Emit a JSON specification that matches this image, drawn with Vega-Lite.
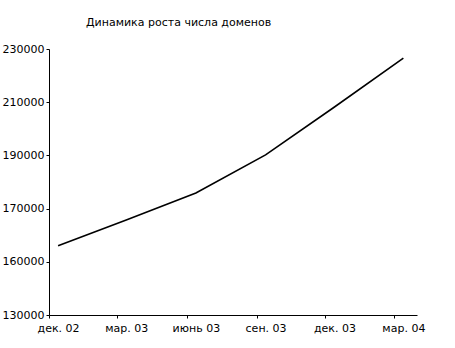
{
  "$schema": "https://vega.github.io/schema/vega-lite/v6.json",
  "autosize": "none",
  "width": 368,
  "height": 266,
  "padding": {"left": 49, "top": 49, "right": 38, "bottom": 33},
  "background": "white",
  "title": {
    "text": "Динамика роста числа доменов",
    "anchor": "start",
    "frame": "group",
    "dx": 37,
    "offset": 15,
    "font": "DejaVu Sans",
    "fontSize": 11,
    "fontWeight": "normal",
    "color": "black"
  },
  "data": {
    "values": [
      {"date": "2002-12-01T00:00:00", "domains": 156000},
      {"date": "2003-03-01T00:00:00", "domains": 165700},
      {"date": "2003-06-01T00:00:00", "domains": 175900},
      {"date": "2003-09-01T00:00:00", "domains": 190200},
      {"date": "2003-12-01T00:00:00", "domains": 208200},
      {"date": "2004-03-01T00:00:00", "domains": 226600}
    ]
  },
  "mark": {"type": "line", "color": "black", "strokeWidth": 1.6},
  "encoding": {
    "x": {
      "field": "date",
      "type": "temporal",
      "scale": {"domain": [{"year": 2002, "month": 11, "date": 19}, {"year": 2004, "month": 3, "date": 19}]},
      "axis": {
        "title": null,
        "values": [
          {"year": 2002, "month": 12, "date": 1},
          {"year": 2003, "month": 3, "date": 1},
          {"year": 2003, "month": 6, "date": 1},
          {"year": 2003, "month": 9, "date": 1},
          {"year": 2003, "month": 12, "date": 1},
          {"year": 2004, "month": 3, "date": 1}
        ],
        "format": "%b %y",
        "grid": false,
        "tickOffset": -9,
        "labelOffset": 9,
        "tickSize": 3,
        "tickColor": "black",
        "domainColor": "black",
        "labelColor": "black",
        "labelFont": "DejaVu Sans",
        "labelFontSize": 11,
        "labelPadding": 4,
        "labelFlush": false,
        "labelOverlap": false
      }
    },
    "y": {
      "field": "domains",
      "type": "quantitative",
      "scale": {"domain": [130000, 230000], "nice": false, "zero": false},
      "axis": {
        "title": null,
        "values": [130000, 150000, 170000, 190000, 210000, 230000],
        "labelExpr": "datum.value == 150000 ? '160000' : format(datum.value, 'd')",
        "grid": false,
        "tickSize": 3,
        "tickColor": "black",
        "domainColor": "black",
        "labelColor": "black",
        "labelFont": "DejaVu Sans",
        "labelFontSize": 11,
        "labelPadding": 2,
        "labelFlush": false,
        "labelOverlap": false
      }
    }
  },
  "config": {
    "view": {"stroke": null},
    "locale": {
      "time": {
        "dateTime": "%A, %e %B %Y г. %X",
        "date": "%d.%m.%Y",
        "time": "%H:%M:%S",
        "periods": ["AM", "PM"],
        "days": ["воскресенье", "понедельник", "вторник", "среда", "четверг", "пятница", "суббота"],
        "shortDays": ["вс", "пн", "вт", "ср", "чт", "пт", "сб"],
        "months": ["январь", "февраль", "март", "апрель", "май", "июнь", "июль", "август", "сентябрь", "октябрь", "ноябрь", "декабрь"],
        "shortMonths": ["янв.", "февр.", "мар.", "апр.", "май", "июнь", "июль", "авг.", "сен.", "окт.", "нояб.", "дек."]
      }
    }
  }
}
